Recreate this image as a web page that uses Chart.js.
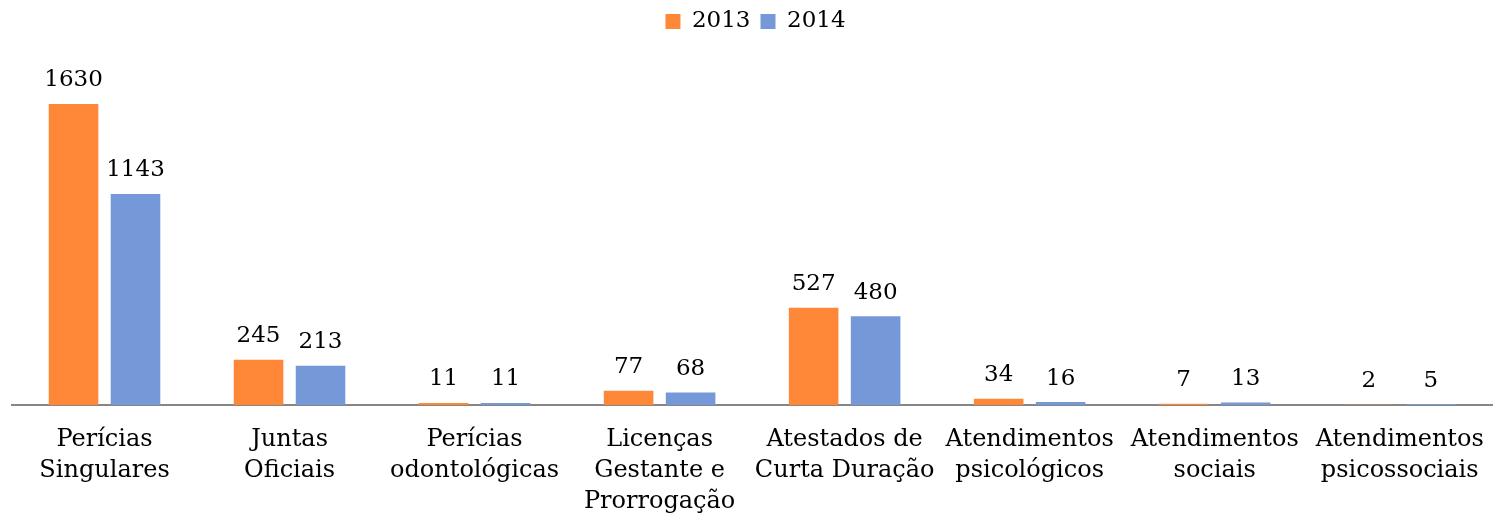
<!DOCTYPE html>
<html>
<head>
<meta charset="utf-8">
<script src="https://cdn.jsdelivr.net/npm/chart.js@4"></script>
<style>
  html, body { margin: 0; padding: 0; background: #fff; }
  #wrap { width: 1503px; height: 519px; position: relative; }
</style>
</head>
<body>
<div id="wrap"><canvas id="chart"></canvas></div>
<script>
const categories = [
    ['Perícias', 'Singulares'],
    ['Juntas', 'Oficiais'],
    ['Perícias', 'odontológicas'],
    ['Licenças', 'Gestante e', 'Prorrogação'],
    ['Atestados de', 'Curta Duração'],
    ['Atendimentos', 'psicológicos'],
    ['Atendimentos', 'sociais'],
    ['Atendimentos', 'psicossociais']
];
const values2013 = [1630, 245, 11, 77, 527, 34, 7, 2];
const values2014 = [1143, 213, 11, 68, 480, 16, 13, 5];
const seriesNames = ['2013', '2014'];

const FONT = "'DejaVu Serif', serif";

// valores encima de cada barra
const valueLabels = {
    id: 'valueLabels',
    afterDatasetsDraw(chart) {
        const ctx = chart.ctx;
        ctx.save();
        ctx.font = '23px ' + FONT;
        ctx.fillStyle = '#000';
        ctx.textAlign = 'center';
        ctx.textBaseline = 'bottom';
        chart.data.datasets.forEach((ds, i) => {
            const meta = chart.getDatasetMeta(i);
            meta.data.forEach((bar, j) => {
                ctx.fillText(ds.data[j], bar.x, bar.y - 12);
            });
        });
        ctx.restore();
    }
};

const ctx = document.getElementById('chart').getContext('2d');
new Chart(ctx, {
    type: 'bar',
    data: {
        labels: categories,
        datasets: [{
            label: seriesNames[0],
            data: values2013,
            backgroundColor: '#FF8838',
            categoryPercentage: 0.67,
            barPercentage: 0.8
        }, {
            label: seriesNames[1],
            data: values2014,
            backgroundColor: '#7599D8',
            categoryPercentage: 0.67,
            barPercentage: 0.8
        }]
    },
    options: {
        responsive: true,
        maintainAspectRatio: false,
        animation: false,
        layout: { padding: { left: 12, right: 4, top: 0, bottom: 0 } },
        plugins: {
            legend: {
                position: 'top',
                labels: {
                    font: { family: FONT, size: 23 },
                    color: '#000',
                    boxWidth: 15,
                    boxHeight: 15,
                    padding: 10
                }
            },
            tooltip: { enabled: false }
        },
        scales: {
            x: {
                grid: { display: false, drawTicks: false },
                border: { color: '#868686', width: 2 },
                ticks: {
                    autoSkip: false,
                    maxRotation: 0,
                    padding: 19,
                    color: '#000',
                    font: { family: FONT, size: 24, lineHeight: 1.3 }
                },
                afterFit(scale) {
                    scale.height = 114;
                }
            },
            y: {
                display: false,
                beginAtZero: true,
                max: 1960
            }
        }
    },
    plugins: [valueLabels]
});
</script>
</body>
</html>
